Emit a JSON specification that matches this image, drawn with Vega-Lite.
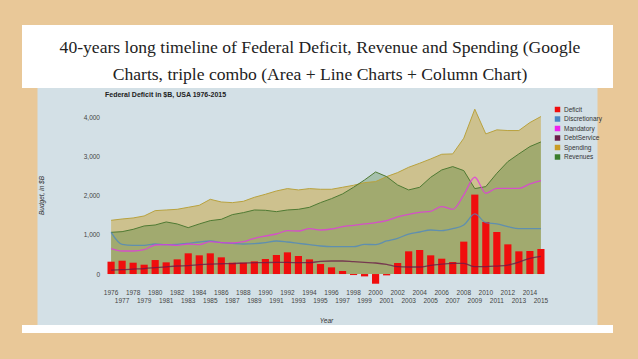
{
  "$schema": "https://vega.github.io/schema/vega-lite/v6.json",
  "background": "#e9c898",
  "padding": {"left": 22, "top": 25, "right": 25, "bottom": 26},
  "spacing": 0,
  "center": true,
  "bounds": "flush",
  "config": {"view": {"stroke": null}, "font": "Liberation Sans"},
  "vconcat": [
    {
      "width": 591,
      "height": 63,
      "view": {"fill": "white", "stroke": null},
      "data": {"values": [{"t": "40-years long timeline of  Federal Deficit, Revenue and Spending (Google\nCharts, triple combo (Area + Line Charts + Column Chart)"}]},
      "mark": {"type": "text", "lineBreak": "\n", "font": "Liberation Serif", "fontSize": 17.6, "lineHeight": 27, "color": "#222222", "align": "center", "baseline": "middle", "dx": 2.5, "dy": -8.5},
      "encoding": {"text": {"field": "t"}}
    },
    {
      "width": 560,
      "height": 237,
      "view": {"fill": "#d3e0e6", "stroke": null},
      "title": {"text": "Federal Deficit in $B, USA 1976-2015", "anchor": "start", "frame": "group", "offset": -10, "dx": 67.5, "fontSize": 7, "fontWeight": "bold", "color": "#222222", "font": "Liberation Sans"},
      "data": {"values": [
        {"Year": 1976, "Deficit": 315, "Discretionary": 1064, "Mandatory": 647, "DebtService": 102, "Spending": 1370, "Revenues": 1064},
        {"Year": 1977, "Deficit": 340, "Discretionary": 757, "Mandatory": 587, "DebtService": 110, "Spending": 1404, "Revenues": 1081},
        {"Year": 1978, "Deficit": 289, "Discretionary": 732, "Mandatory": 587, "DebtService": 125, "Spending": 1430, "Revenues": 1140},
        {"Year": 1979, "Deficit": 238, "Discretionary": 732, "Mandatory": 621, "DebtService": 140, "Spending": 1481, "Revenues": 1226},
        {"Year": 1980, "Deficit": 357, "Discretionary": 766, "Mandatory": 740, "DebtService": 162, "Spending": 1617, "Revenues": 1251},
        {"Year": 1981, "Deficit": 298, "Discretionary": 749, "Mandatory": 749, "DebtService": 185, "Spending": 1634, "Revenues": 1328},
        {"Year": 1982, "Deficit": 374, "Discretionary": 757, "Mandatory": 732, "DebtService": 205, "Spending": 1651, "Revenues": 1277},
        {"Year": 1983, "Deficit": 528, "Discretionary": 783, "Mandatory": 766, "DebtService": 215, "Spending": 1702, "Revenues": 1183},
        {"Year": 1984, "Deficit": 477, "Discretionary": 817, "Mandatory": 749, "DebtService": 240, "Spending": 1753, "Revenues": 1277},
        {"Year": 1985, "Deficit": 528, "Discretionary": 843, "Mandatory": 826, "DebtService": 255, "Spending": 1906, "Revenues": 1362},
        {"Year": 1986, "Deficit": 426, "Discretionary": 800, "Mandatory": 800, "DebtService": 262, "Spending": 1838, "Revenues": 1396},
        {"Year": 1987, "Deficit": 289, "Discretionary": 783, "Mandatory": 791, "DebtService": 268, "Spending": 1821, "Revenues": 1515},
        {"Year": 1988, "Deficit": 289, "Discretionary": 766, "Mandatory": 826, "DebtService": 280, "Spending": 1855, "Revenues": 1566},
        {"Year": 1989, "Deficit": 323, "Discretionary": 774, "Mandatory": 911, "DebtService": 289, "Spending": 1957, "Revenues": 1634},
        {"Year": 1990, "Deficit": 383, "Discretionary": 800, "Mandatory": 970, "DebtService": 292, "Spending": 2034, "Revenues": 1626},
        {"Year": 1991, "Deficit": 485, "Discretionary": 843, "Mandatory": 1021, "DebtService": 298, "Spending": 2119, "Revenues": 1591},
        {"Year": 1992, "Deficit": 553, "Discretionary": 817, "Mandatory": 1106, "DebtService": 298, "Spending": 2179, "Revenues": 1634},
        {"Year": 1993, "Deficit": 460, "Discretionary": 783, "Mandatory": 1098, "DebtService": 289, "Spending": 2145, "Revenues": 1651},
        {"Year": 1994, "Deficit": 374, "Discretionary": 749, "Mandatory": 1157, "DebtService": 289, "Spending": 2179, "Revenues": 1702},
        {"Year": 1995, "Deficit": 255, "Discretionary": 715, "Mandatory": 1123, "DebtService": 323, "Spending": 2162, "Revenues": 1821},
        {"Year": 1996, "Deficit": 170, "Discretionary": 698, "Mandatory": 1149, "DebtService": 332, "Spending": 2162, "Revenues": 1923},
        {"Year": 1997, "Deficit": 77, "Discretionary": 698, "Mandatory": 1209, "DebtService": 332, "Spending": 2213, "Revenues": 2043},
        {"Year": 1998, "Deficit": -26, "Discretionary": 698, "Mandatory": 1243, "DebtService": 315, "Spending": 2264, "Revenues": 2213},
        {"Year": 1999, "Deficit": -60, "Discretionary": 757, "Mandatory": 1277, "DebtService": 298, "Spending": 2332, "Revenues": 2400},
        {"Year": 2000, "Deficit": -247, "Discretionary": 749, "Mandatory": 1311, "DebtService": 281, "Spending": 2357, "Revenues": 2604},
        {"Year": 2001, "Deficit": -34, "Discretionary": 843, "Mandatory": 1362, "DebtService": 247, "Spending": 2485, "Revenues": 2485},
        {"Year": 2002, "Deficit": 281, "Discretionary": 911, "Mandatory": 1455, "DebtService": 187, "Spending": 2587, "Revenues": 2272},
        {"Year": 2003, "Deficit": 579, "Discretionary": 1021, "Mandatory": 1523, "DebtService": 179, "Spending": 2723, "Revenues": 2145},
        {"Year": 2004, "Deficit": 613, "Discretionary": 1072, "Mandatory": 1574, "DebtService": 179, "Spending": 2826, "Revenues": 2213},
        {"Year": 2005, "Deficit": 477, "Discretionary": 1123, "Mandatory": 1600, "DebtService": 221, "Spending": 2936, "Revenues": 2468},
        {"Year": 2006, "Deficit": 391, "Discretionary": 1106, "Mandatory": 1719, "DebtService": 255, "Spending": 3055, "Revenues": 2655},
        {"Year": 2007, "Deficit": 306, "Discretionary": 1157, "Mandatory": 1651, "DebtService": 272, "Spending": 3064, "Revenues": 2740},
        {"Year": 2008, "Deficit": 826, "Discretionary": 1251, "Mandatory": 2017, "DebtService": 272, "Spending": 3464, "Revenues": 2638},
        {"Year": 2009, "Deficit": 2026, "Discretionary": 1532, "Mandatory": 2468, "DebtService": 187, "Spending": 4204, "Revenues": 2179},
        {"Year": 2010, "Deficit": 1328, "Discretionary": 1311, "Mandatory": 2060, "DebtService": 187, "Spending": 3574, "Revenues": 2230},
        {"Year": 2011, "Deficit": 1072, "Discretionary": 1277, "Mandatory": 2187, "DebtService": 204, "Spending": 3677, "Revenues": 2570},
        {"Year": 2012, "Deficit": 757, "Discretionary": 1209, "Mandatory": 2187, "DebtService": 230, "Spending": 3660, "Revenues": 2868},
        {"Year": 2013, "Deficit": 579, "Discretionary": 1157, "Mandatory": 2187, "DebtService": 306, "Spending": 3660, "Revenues": 3064},
        {"Year": 2014, "Deficit": 587, "Discretionary": 1157, "Mandatory": 2298, "DebtService": 400, "Spending": 3864, "Revenues": 3251},
        {"Year": 2015, "Deficit": 638, "Discretionary": 1157, "Mandatory": 2383, "DebtService": 451, "Spending": 4017, "Revenues": 3370}
      ]},
      "layer": [
        {
          "mark": {"type": "area", "fill": "#c49a1a", "fillOpacity": 0.43},
          "encoding": {
            "x": {"field": "Year", "type": "ordinal",
              "scale": {"type": "band", "range": [70, 507], "paddingInner": 0.35, "paddingOuter": 0},
              "axis": {"title": "Year", "offset": -38, "labelAngle": 0, "labelOverlap": false, "labelFlush": false,
                "labelExpr": "datum.value % 2 == 0 ? datum.label : ['', datum.label]",
                "labelLineHeight": 8, "labelFontSize": 6.5, "labelColor": "#444444", "labelPadding": 2.5,
                "domain": false, "ticks": false, "grid": false,
                "titleFontSize": 6.5, "titleFontStyle": "italic", "titleFontWeight": "normal", "titleColor": "#333333", "titlePadding": 13}},
            "y": {"field": "Spending", "type": "quantitative", "title": "Budget, in $B",
              "scale": {"domain": [-1300, 4745], "nice": false, "zero": false},
              "axis": {"offset": -64.5, "values": [0, 1000, 2000, 3000, 4000], "format": ",.0f",
                "labelFontSize": 6.5, "labelColor": "#444444", "labelPadding": 2.5,
                "domain": false, "ticks": false, "grid": false,
                "titleFontSize": 6.5, "titleFontStyle": "italic", "titleFontWeight": "normal", "titleColor": "#333333",
                "titleX": -58, "titleY": 107}}
          }
        },
        {
          "mark": {"type": "area", "fill": "#3c7828", "fillOpacity": 0.3},
          "encoding": {
            "x": {"field": "Year", "type": "ordinal"},
            "y": {"field": "Revenues", "type": "quantitative", "title": "Budget, in $B"}
          }
        },
        {
          "mark": {"type": "line", "stroke": "#b9a23e", "strokeWidth": 1},
          "encoding": {
            "x": {"field": "Year", "type": "ordinal"},
            "y": {"field": "Spending", "type": "quantitative", "title": "Budget, in $B"}
          }
        },
        {
          "mark": {"type": "line", "stroke": "#4f7a33", "strokeWidth": 1},
          "encoding": {
            "x": {"field": "Year", "type": "ordinal"},
            "y": {"field": "Revenues", "type": "quantitative", "title": "Budget, in $B"}
          }
        },
        {
          "mark": {"type": "bar"},
          "encoding": {
            "x": {"field": "Year", "type": "ordinal"},
            "y": {"field": "Deficit", "type": "quantitative", "title": "Budget, in $B"},
            "color": {"datum": "Deficit",
              "scale": {"domain": ["Deficit", "Discretionary", "Mandatory", "DebtService", "Spending", "Revenues"],
                "range": ["#f00d0d", "#4a86c4", "#ee22ee", "#6b1d49", "#c99c26", "#3b7d2c"]},
              "legend": {"orient": "none", "legendX": 532, "legendY": 81, "title": null, "symbolType": "square",
                "symbolSize": 30, "labelFontSize": 6.5, "labelColor": "#333333", "rowPadding": 2.5, "labelOffset": 3}}
          }
        },
        {
          "mark": {"type": "line", "stroke": "#4a86c4", "opacity": 0.75, "strokeWidth": 1.3, "interpolate": "monotone"},
          "encoding": {
            "x": {"field": "Year", "type": "ordinal"},
            "y": {"field": "Discretionary", "type": "quantitative", "title": "Budget, in $B"}
          }
        },
        {
          "mark": {"type": "line", "stroke": "#e632e6", "opacity": 0.75, "strokeWidth": 1.3, "interpolate": "monotone"},
          "encoding": {
            "x": {"field": "Year", "type": "ordinal"},
            "y": {"field": "Mandatory", "type": "quantitative", "title": "Budget, in $B"}
          }
        },
        {
          "mark": {"type": "line", "stroke": "#6b1d49", "opacity": 0.8, "strokeWidth": 1.3, "interpolate": "monotone"},
          "encoding": {
            "x": {"field": "Year", "type": "ordinal"},
            "y": {"field": "DebtService", "type": "quantitative", "title": "Budget, in $B"}
          }
        }
      ]
    },
    {
      "width": 591,
      "height": 8,
      "view": {"fill": "white", "stroke": null},
      "data": {"values": [{"t": ""}]},
      "mark": {"type": "text"},
      "encoding": {"text": {"field": "t"}}
    }
  ]
}
